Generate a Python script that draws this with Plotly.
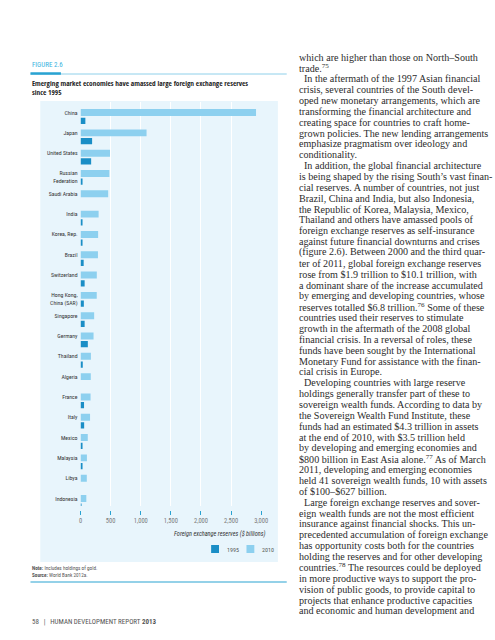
import plotly.graph_objects as go

# ---------------- data ----------------
countries = ["China", "Japan", "United States", "Russian<br>Federation", "Saudi Arabia",
             "India", "Korea, Rep.", "Brazil", "Switzerland", "Hong Kong,<br>China (SAR)",
             "Singapore", "Germany", "Thailand", "Algeria", "France", "Italy",
             "Mexico", "Malaysia", "Libya", "Indonesia"]
reserves_2010 = [2914, 1096, 489, 479, 459, 300, 292, 289, 270, 269,
                 226, 216, 172, 170, 166, 158, 120, 106, 104, 96]
reserves_1995 = [80, 192, 176, 18, None, 22, 33, 52, 68, 55,
                 68, 121, 37, None, 58, 60, 17, 24, None, 14]
x_ticks = [0, 500, 1000, 1500, 2000, 2500, 3000]
series_names = ["1995", "2010"]

body_lines = [
    ("which are higher than those on North–South", 0),
    ("trade.<sup>75</sup>", 0),
    ("In the aftermath of the 1997 Asian financial", 1),
    ("crisis, several countries of the South devel-", 0),
    ("oped new monetary arrangements, which are", 0),
    ("transforming the financial architecture and", 0),
    ("creating space for countries to craft home-", 0),
    ("grown policies. The new lending arrangements", 0),
    ("emphasize pragmatism over ideology and", 0),
    ("conditionality.", 0),
    ("In addition, the global financial architecture", 1),
    ("is being shaped by the rising South’s vast finan-", 0),
    ("cial reserves. A number of countries, not just", 0),
    ("Brazil, China and India, but also Indonesia,", 0),
    ("the Republic of Korea, Malaysia, Mexico,", 0),
    ("Thailand and others have amassed pools of", 0),
    ("foreign exchange reserves as self-insurance", 0),
    ("against future financial downturns and crises", 0),
    ("(figure 2.6). Between 2000 and the third quar-", 0),
    ("ter of 2011, global foreign exchange reserves", 0),
    ("rose from $1.9 trillion to $10.1 trillion, with", 0),
    ("a dominant share of the increase accumulated", 0),
    ("by emerging and developing countries, whose", 0),
    ("reserves totalled $6.8 trillion.<sup>76</sup> Some of these", 0),
    ("countries used their reserves to stimulate", 0),
    ("growth in the aftermath of the 2008 global", 0),
    ("financial crisis. In a reversal of roles, these", 0),
    ("funds have been sought by the International", 0),
    ("Monetary Fund for assistance with the finan-", 0),
    ("cial crisis in Europe.", 0),
    ("Developing countries with large reserve", 1),
    ("holdings generally transfer part of these to", 0),
    ("sovereign wealth funds. According to data by", 0),
    ("the Sovereign Wealth Fund Institute, these", 0),
    ("funds had an estimated $4.3 trillion in assets", 0),
    ("at the end of 2010, with $3.5 trillion held", 0),
    ("by developing and emerging economies and", 0),
    ("$800 billion in East Asia alone.<sup>77</sup> As of March", 0),
    ("2011, developing and emerging economies", 0),
    ("held 41 sovereign wealth funds, 10 with assets", 0),
    ("of $100–$627 billion.", 0),
    ("Large foreign exchange reserves and sover-", 1),
    ("eign wealth funds are not the most efficient", 0),
    ("insurance against financial shocks. This un-", 0),
    ("precedented accumulation of foreign exchange", 0),
    ("has opportunity costs both for the countries", 0),
    ("holding the reserves and for other developing", 0),
    ("countries.<sup>78</sup> The resources could be deployed", 0),
    ("in more productive ways to support the pro-", 0),
    ("vision of public goods, to provide capital to", 0),
    ("projects that enhance productive capacities", 0),
    ("and economic and human development and", 0),
]

# ---------------- style ----------------
W, H = 495, 640
COND = "Roboto Condensed, DejaVu Sans Condensed, sans-serif"
BOLDC = "Open Sans Condensed, Roboto Condensed, sans-serif"
SERIF = "Liberation Serif, DejaVu Serif, serif"
C_DARK = "#1a8ec6"
C_LIGHT = "#8dd0ef"
C_PANEL = "#e8f5fc"
C_TEAL = "#2aa3d2"


def px(y):
    return 1 - y / H


def pxx(x):
    return x / W


idx = list(range(len(countries)))
tickpos = [i + (0.17 if "<br>" in c else 0) for i, c in zip(idx, countries)]

fig = go.Figure()
fig.add_trace(go.Bar(
    y=idx, x=reserves_1995, orientation="h", name=series_names[0],
    marker=dict(color=C_DARK, line=dict(width=0)),
    width=0.31, offset=0.25, showlegend=False, hoverinfo="skip"))
fig.add_trace(go.Bar(
    y=idx, x=reserves_2010, orientation="h", name=series_names[1],
    marker=dict(color=C_LIGHT, line=dict(width=0)),
    width=0.34, offset=-0.17, showlegend=False, hoverinfo="skip"))

fig.update_layout(
    width=W, height=H,
    margin=dict(l=0, r=0, t=0, b=0),
    paper_bgcolor="white", plot_bgcolor="rgba(0,0,0,0)",
    barmode="overlay",
    xaxis=dict(
        domain=[pxx(80), pxx(264)], range=[0, 3000],
        tickvals=x_ticks, tickformat=",",
        anchor="free", position=px(510),
        ticks="outside", ticklen=4, tickwidth=1, tickcolor=C_TEAL,
        showgrid=True, gridcolor="white", gridwidth=1.2,
        zeroline=False, showline=False,
        tickfont=dict(family=COND, size=6.5, color="#7a7a7a"),
    ),
    yaxis=dict(
        domain=[px(506), px(102)], range=[19.37, -0.52],
        tickvals=tickpos, ticktext=countries,
        showgrid=False, zeroline=False, showline=False, ticks="",
        ticklabelstandoff=2,
        tickfont=dict(family=COND, size=5.8, color="#333333"),
    ),
)

shapes = [
    dict(type="rect", xref="paper", yref="paper", x0=pxx(39), x1=pxx(281),
         y0=px(562), y1=px(101), fillcolor=C_PANEL, line=dict(width=0), layer="below"),
    dict(type="line", xref="paper", yref="paper", x0=pxx(29), x1=pxx(290),
         y0=px(74), y1=px(74), line=dict(color="#8fd0ea", width=1)),
    dict(type="line", xref="paper", yref="paper", x0=pxx(29), x1=pxx(60),
         y0=px(73.5), y1=px(73.5), line=dict(color=C_TEAL, width=2.5)),
    dict(type="line", xref="paper", yref="paper", x0=pxx(29), x1=pxx(290),
         y0=px(582), y1=px(582), line=dict(color=C_TEAL, width=1.2)),
    # legend swatches
    dict(type="rect", xref="paper", yref="paper", x0=pxx(213), x1=pxx(221),
         y0=px(553), y1=px(545), fillcolor=C_DARK, line=dict(width=0)),
    dict(type="rect", xref="paper", yref="paper", x0=pxx(249), x1=pxx(257),
         y0=px(553), y1=px(545), fillcolor=C_LIGHT, line=dict(width=0)),
]
fig.update_layout(shapes=shapes)

ann = []


def add_text(text, x, y, size, color="#222", family=COND, xanchor="left", **kw):
    ann.append(dict(text=text, x=pxx(x), y=px(y), xref="paper", yref="paper",
                    xanchor=xanchor, yanchor="middle", showarrow=False,
                    font=dict(family=family, size=size, color=color), **kw))


add_text("FIGURE 2.6", 29, 65, 7, color="#3ab2de")
add_text("<b>Emerging market economies have amassed large foreign exchange reserves</b>",
         29, 83, 7.3, color="#222", family=BOLDC)
add_text("<b>since 1995</b>", 29, 92, 7.3, color="#222", family=BOLDC)
add_text("<i>Foreign exchange reserves ($ billions)</i>", 271, 534, 6.3, color="#333", xanchor="right")
add_text(series_names[0], 227, 549, 6, color="#555")
add_text(series_names[1], 263, 549, 6, color="#555")
add_text("<b>Note:</b> Includes holdings of gold.", 29, 568, 5.2, color="#555")
add_text("<b>Source:</b> World Bank 2012a.", 29, 575, 5.2, color="#555")
add_text("58   |   HUMAN DEVELOPMENT REPORT <b>2013</b>", 29, 622, 7, color="#555")

y0, dy = 57, 10.86
for k, (line, indent) in enumerate(body_lines):
    add_text(line, 300 + 6 * indent, y0 + k * dy, 10.1, color="#2b2b2b", family=SERIF)

fig.update_layout(annotations=ann)
fig.write_html("out.html", post_script="document.body.style.margin='0px';",
               config={"displayModeBar": False})
